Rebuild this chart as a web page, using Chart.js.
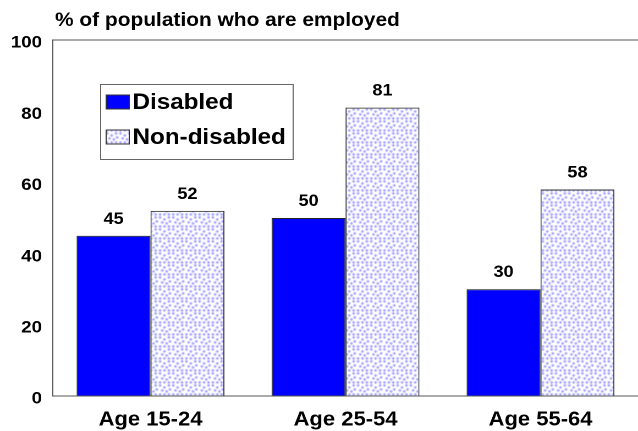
<!DOCTYPE html>
<html>
<head>
<meta charset="utf-8">
<script src="https://cdn.jsdelivr.net/npm/chart.js@4"></script>
<style>
  html, body { margin: 0; padding: 0; background: #fff; overflow: hidden; }
  /* the reference is a little stretched sideways, so draw narrower and widen it */
  #wrap { width: 580px; height: 431px; transform: scaleX(1.1); transform-origin: 0 0; }
</style>
</head>
<body>
<div id="wrap"><canvas id="myChart" width="580" height="431"></canvas></div>
<script>
// chart values
const categories = ['Age 15-24', 'Age 25-54', 'Age 55-64'];
const seriesNames = ['Disabled', 'Non-disabled'];
const disabledValues = [45, 50, 30];
const nonDisabledValues = [52, 81, 58];
const yTicks = [0, 20, 40, 60, 80, 100];
const titleText = '% of population who are employed';

const FONT = '"Liberation Sans", Arial, sans-serif';

// light dotted fill for the non-disabled bars
function dotPattern() {
    const c = document.createElement('canvas');
    c.width = 12;
    c.height = 12;
    const g = c.getContext('2d');
    g.fillStyle = '#fff';
    g.fillRect(0, 0, 12, 12);
    g.fillStyle = 'rgba(120,120,255,0.8)';
    const dots = [[1, 1], [5, 3], [9, 1], [3, 6], [7, 7], [10, 5], [1, 10], [5, 10], [9, 10]];
    for (let d of dots) {
        g.beginPath();
        g.arc(d[0] + 0.5, d[1] + 0.5, 1.15, 0, Math.PI * 2);
        g.fill();
    }
    return g.createPattern(c, 'repeat');
}

const dots = dotPattern();
const fills = ['#0000ff', dots];

const decor = {
    id: 'decor',
    afterDatasetsDraw(chart) {
        const ctx = chart.ctx;
        ctx.save();
        ctx.fillStyle = '#000';
        ctx.font = 'bold 16.5px ' + FONT;
        ctx.textAlign = 'center';
        ctx.textBaseline = 'alphabetic';
        chart.data.datasets.forEach((ds, i) => {
            chart.getDatasetMeta(i).data.forEach((bar, j) => {
                ctx.fillText(String(ds.data[j]), bar.x, bar.y - 12);
            });
        });
        ctx.restore();
    },
    afterDraw(chart) {
        const ctx = chart.ctx;
        ctx.save();
        // title
        ctx.fillStyle = '#000';
        ctx.font = 'bold 19px ' + FONT;
        ctx.textAlign = 'left';
        ctx.textBaseline = 'middle';
        ctx.fillText(titleText, 50, 21);

        // legend box
        ctx.fillStyle = '#fff';
        ctx.fillRect(91, 84, 175, 75);
        ctx.strokeStyle = '#666';
        ctx.lineWidth = 1;
        ctx.strokeRect(91.5, 84.5, 175, 75);

        const rows = [102, 137];
        ctx.font = 'bold 22px ' + FONT;
        chart.data.datasets.forEach((ds, i) => {
            const y = rows[i];
            ctx.fillStyle = ds.backgroundColor;
            ctx.fillRect(96.5, y - 7, 21, 14);
            ctx.strokeStyle = '#333';
            ctx.strokeRect(96.5, y - 7, 21, 14);
            ctx.fillStyle = '#000';
            ctx.fillText(ds.label, 120.5, y + 1);
        });
        ctx.restore();
    }
};

const config = {
    type: 'bar',
    data: {
        labels: categories,
        datasets: [
            {
                label: seriesNames[0],
                data: disabledValues,
                backgroundColor: fills[0],
                borderColor: '#222',
                borderWidth: 1
            },
            {
                label: seriesNames[1],
                data: nonDisabledValues,
                backgroundColor: fills[1],
                borderColor: '#333',
                borderWidth: 1
            }
        ]
    },
    options: {
        responsive: false,
        animation: false,
        devicePixelRatio: 2,
        layout: { padding: { top: 40, left: 0, right: 0, bottom: 0 } },
        datasets: { bar: { barPercentage: 1, categoryPercentage: 0.758 } },
        plugins: {
            legend: { display: false },
            title: { display: false },
            tooltip: { enabled: false }
        },
        scales: {
            x: {
                grid: { display: false },
                border: { color: '#555', width: 1 },
                ticks: {
                    color: '#000',
                    padding: 4,
                    font: { family: FONT, size: 20, weight: 'bold' }
                },
                afterFit(scale) { scale.height = 35; }
            },
            y: {
                min: 0,
                max: 100,
                afterBuildTicks(scale) { scale.ticks = yTicks.map(v => ({ value: v })); },
                grid: {
                    drawTicks: false,
                    color: c => (c.tick && c.tick.value === 100 ? '#555' : 'rgba(0,0,0,0)')
                },
                border: { color: '#555', width: 1 },
                ticks: {
                    color: '#000',
                    padding: 10,
                    labelOffset: 3,
                    font: { family: FONT, size: 17, weight: 'bold' }
                },
                afterFit(scale) { scale.width = 48.2; }
            }
        }
    },
    plugins: [decor]
};

const myChart = new Chart(document.getElementById('myChart'), config);
</script>
</body>
</html>
